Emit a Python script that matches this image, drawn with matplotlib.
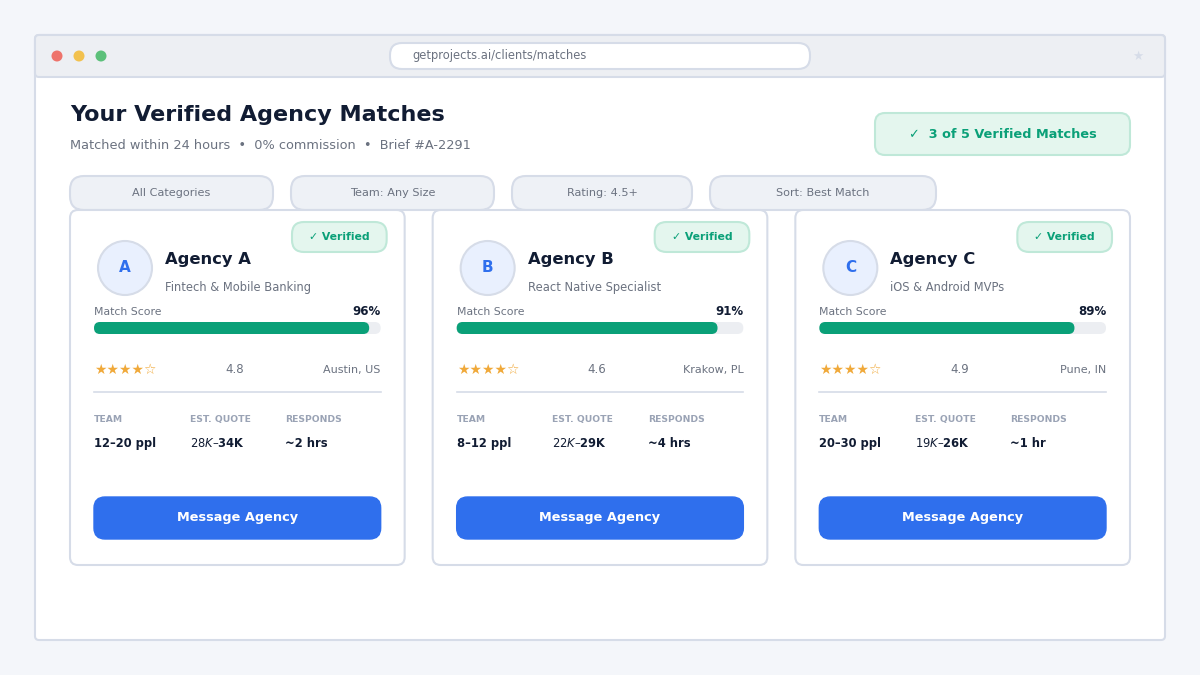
import matplotlib
matplotlib.use("Agg")
import matplotlib.pyplot as plt
from matplotlib.patches import FancyBboxPatch, Circle

agencies = ["Agency A", "Agency B", "Agency C"]
initials = ["A", "B", "C"]
specialties = ["Fintech & Mobile Banking", "React Native Specialist", "iOS & Android MVPs"]
match_scores = [96, 91, 89]
star_labels = ["★★★★☆", "★★★★☆", "★★★★☆"]
ratings = [4.8, 4.6, 4.9]
locations = ["Austin, US", "Krakow, PL", "Pune, IN"]
teams = ["12–20 ppl", "8–12 ppl", "20–30 ppl"]
quotes = ["$28K–$34K", "$22K–$29K", "$19K–$26K"]
responds = ["~2 hrs", "~4 hrs", "~1 hr"]
filters = ["All Categories", "Team: Any Size", "Rating: 4.5+", "Sort: Best Match"]
filter_x = [70, 291, 512, 710]
filter_w = [203, 203, 180, 226]
card_x = [70, 432.67, 795.33]

NAVY = "#111c33"; GRAY = "#6b7280"; LINE = "#d6dce8"; GREEN = "#0aa078"
BLUE = "#2f6fed"; MINT = "#e4f6ee"; MINTE = "#bfe8d8"; PILL = "#eef1f6"

fig = plt.figure(figsize=(12, 6.75), dpi=100, facecolor="#f4f6fa")
ax = fig.add_axes([0, 0, 1, 1])
ax.set_xlim(0, 1200); ax.set_ylim(675, 0); ax.axis("off")

def rr(x, y, w, h, r, fc, ec=None, lw=1.5, z=2):
    p = FancyBboxPatch((x + r, y + r), w - 2 * r, h - 2 * r,
                       boxstyle=f"round,pad={r},rounding_size={r}",
                       fc=fc, ec=ec if ec else "none", lw=lw if ec else 0, zorder=z)
    ax.add_patch(p)

def t(x, y, s, size, color, weight="normal", ha="left", z=6):
    ax.text(x, y, s, fontsize=size, color=color, fontweight=weight, ha=ha, va="center", zorder=z)

# window
rr(35, 35, 1130, 605, 4, "white", LINE)
rr(35, 35, 1130, 42, 4, "#edeff3", LINE)
for cx, c in zip([57, 79, 101], ["#ee736b", "#f2c14e", "#5cc07a"]):
    ax.add_patch(Circle((cx, 56), 5.5, fc=c, ec="none", zorder=4))
rr(390, 43, 420, 26, 12, "white", LINE)
t(412, 55.5, "getprojects.ai/clients/matches", 8.3, GRAY)
t(1138, 56, "★", 9, "#d6dce8", ha="center")

# heading
t(70, 115, "Your Verified Agency Matches", 16, NAVY, "bold")
t(70, 145.5, "Matched within 24 hours  •  0% commission  •  Brief #A-2291", 9.32, GRAY)
rr(875, 113, 255, 42, 10, MINT, MINTE)
t(1002.5, 134, "✓  3 of 5 Verified Matches", 9.3, GREEN, "bold", ha="center")

# filter pills
for x, w, s in zip(filter_x, filter_w, filters):
    rr(x, 176, w, 34, 14, PILL, LINE)
    t(x + w / 2, 193, s, 8.1, GRAY, ha="center")

# cards
for i, x in enumerate(card_x):
    rr(x, 210, 334.67, 355, 8, "white", LINE, z=3)
    rr(x + 222, 222, 94.67, 30, 12, MINT, MINTE, z=4)
    t(x + 269.3, 237, "✓ Verified", 7.85, GREEN, "bold", ha="center")
    ax.add_patch(Circle((x + 55, 268), 27, fc="#e9f0fe", ec=LINE, lw=1.5, zorder=4))
    t(x + 55, 267.5, initials[i], 11, BLUE, "bold", ha="center")
    t(x + 95, 259.5, agencies[i], 11.8, NAVY, "bold")
    t(x + 95, 287.5, specialties[i], 8.3, GRAY)
    t(x + 24, 312, "Match Score", 7.8, GRAY)
    t(x + 311, 311.5, f"{match_scores[i]}%", 8.5, NAVY, "bold", ha="right")
    rr(x + 24, 322, 286.67, 12, 6, "#eceef2", z=4)
    rr(x + 24, 322, 286.67 * match_scores[i] / 100, 12, 6, GREEN, z=5)
    t(x + 24, 370, star_labels[i], 10, "#f0a93a")
    t(x + 164.5, 369.5, f"{ratings[i]}", 8.5, GRAY, ha="center")
    t(x + 310.7, 369.5, locations[i], 8, GRAY, ha="right")
    ax.plot([x + 24, x + 310.7], [392, 392], color=LINE, lw=1.2, zorder=4)
    for dx, lab, val in zip([24, 119.6, 215], ["TEAM", "EST. QUOTE", "RESPONDS"],
                            [teams[i], quotes[i], responds[i]]):
        t(x + dx, 419.5, lab, 6.7, "#9aa3b5", "bold")
        t(x + dx, 443.5, val, 8.3, NAVY, "bold")
    rr(x + 24, 497, 286.67, 42, 11, BLUE, BLUE, lw=1, z=4)
    t(x + 167.3, 517.5, "Message Agency", 9.3, "white", "bold", ha="center")

fig.savefig("out.png", dpi=100, facecolor=fig.get_facecolor())
